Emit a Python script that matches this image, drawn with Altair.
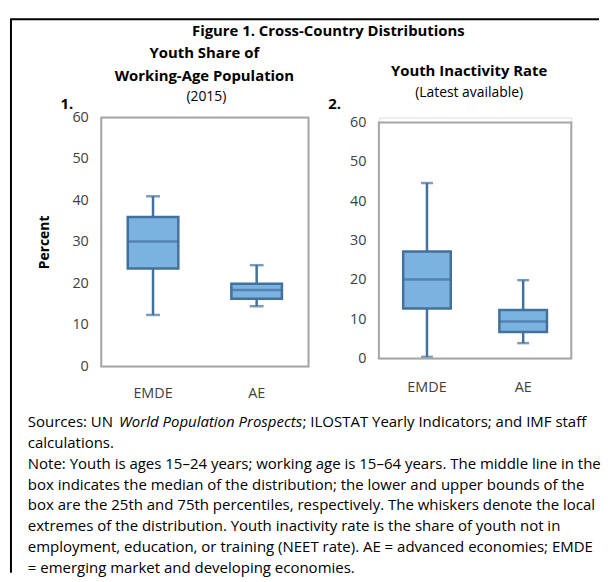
import altair as alt
import pandas as pd

# ---------------- data ----------------
groups = ["EMDE", "AE"]

# Panel 1: Youth share of working-age population (2015), percent
p1_low = [12.4, 14.5]
p1_q1 = [23.6, 16.3]
p1_med = [30.1, 18.4]
p1_q3 = [36.0, 19.9]
p1_high = [41.0, 24.4]

# Panel 2: Youth inactivity rate (latest available), percent
p2_low = [0.4, 3.9]
p2_q1 = [12.7, 6.7]
p2_med = [20.1, 9.4]
p2_q3 = [27.2, 12.3]
p2_high = [44.6, 19.9]

y_ticks = [0, 10, 20, 30, 40, 50, 60]

title_text = "Figure 1. Cross-Country Distributions"
p1_title = ["Youth Share of", "Working-Age Population"]
p1_sub = "(2015)"
p2_title = "Youth Inactivity Rate"
p2_sub = "(Latest available)"
note_a = "Sources: UN "
note_b = "World Population Prospects"
note_c = "; ILOSTAT Yearly Indicators; and IMF staff"
note_lines = [
    "calculations.",
    "Note: Youth is ages 15\u201324 years; working age is 15\u201364 years. The middle line in the",
    "box indicates the median of the distribution; the lower and upper bounds of the",
    "box are the 25th and 75th percentiles, respectively. The whiskers denote the local",
    "extremes of the distribution. Youth inactivity rate is the share of youth not in",
    "employment, education, or training (NEET rate). AE = advanced economies; EMDE",
    "= emerging market and developing economies.",
]

# ---------------- style ----------------
FONT = "Open Sans"
BOX_FILL = "#7CB2DF"
BOX_LINE = "#41719C"
FRAME = "#A6A6A6"
TICK_TXT = "#404040"
NOTE_SIZE = 15.1

one = pd.DataFrame({"k": [0]})


def txt(s, x, y, size=14, weight="normal", align="center", style="normal", color="#000000"):
    return alt.Chart(one).mark_text(
        text=s, align=align, baseline="middle", font=FONT, fontSize=size,
        fontWeight=weight, fontStyle=style, color=color,
    ).encode(x=alt.value(x), y=alt.value(y))


def box_panel(low, q1, med, q3, high, width, height, ymax, box_w, cap_w,
              y_title, label_pad, extra):
    df = pd.DataFrame({"group": groups, "low": low, "q1": q1, "med": med,
                       "q3": q3, "high": high})
    yscale = alt.Scale(domain=[0, ymax], nice=False, zero=True)
    yaxis = alt.Axis(values=y_ticks, domain=False, ticks=False, grid=False,
                     labelPadding=13, labelFontSize=14.5, labelColor=TICK_TXT,
                     labelFont=FONT, title=y_title, titleFont=FONT,
                     titleFontSize=14, titleFontWeight="bold", titleColor="#000000",
                     titleAngle=-90, titleX=-57, titleY=height / 2,
                     titleAlign="center", titleBaseline="middle")
    xenc = alt.X("group:N", sort=groups, scale=alt.Scale(domain=groups),
                 axis=alt.Axis(title=None, labelAngle=0, domain=False, ticks=False,
                               labelPadding=label_pad, labelFontSize=14.5,
                               labelColor=TICK_TXT, labelFont=FONT, labelBaseline="middle"))
    base = alt.Chart(df).encode(x=xenc)
    whisker = base.mark_rule(color=BOX_LINE, strokeWidth=2.5).encode(
        y=alt.Y("low:Q", scale=yscale, axis=yaxis), y2="high:Q")
    caps_lo = base.mark_tick(color=BOX_LINE, size=cap_w, thickness=2.5).encode(
        y=alt.Y("low:Q", scale=yscale, axis=yaxis))
    caps_hi = base.mark_tick(color=BOX_LINE, size=cap_w, thickness=2.5).encode(
        y=alt.Y("high:Q", scale=yscale, axis=yaxis))
    box = base.mark_bar(size=box_w, color=BOX_FILL, stroke=BOX_LINE, strokeWidth=2.5).encode(
        y=alt.Y("q1:Q", scale=yscale, axis=yaxis), y2="q3:Q")
    median = base.mark_tick(color=BOX_LINE, size=box_w, thickness=2.5).encode(
        y=alt.Y("med:Q", scale=yscale, axis=yaxis))
    frame = alt.Chart(one).mark_rect(fillOpacity=0, stroke=FRAME, strokeWidth=2).encode(
        x=alt.value(0), x2=alt.value(width),
        y=alt.Y(datum=60, type="quantitative", scale=yscale, axis=yaxis),
        y2=alt.datum(0))
    return alt.layer(whisker, caps_lo, caps_hi, box, median, frame, *extra).properties(
        width=width, height=height)


# panel 1 plot origin is page (100,115); panel 2 origin page (380,115)
extra1 = [
    # outer black frame (left & top edges)
    alt.Chart(one).mark_rule(color="#000000", strokeWidth=2).encode(
        x=alt.value(-91), y=alt.value(-99), y2=alt.value(459)),
    alt.Chart(one).mark_rule(color="#000000", strokeWidth=2).encode(
        x=alt.value(-92), x2=alt.value(502), y=alt.value(-99)),
    txt(title_text, 229, -87, size=15, weight="bold"),
    txt(p1_title[0], 104, -65, size=15, weight="bold"),
    txt(p1_title[1], 104, -42, size=15, weight="bold"),
    txt(p1_sub, 106, -21, size=14),
    txt("1.", -41, -14, size=15, weight="bold", align="left"),
    txt(note_a, -74, 307, align="left", size=NOTE_SIZE),
    txt(note_b, 18, 307, align="left", style="italic", size=NOTE_SIZE),
    txt(note_c, 203, 307, align="left", size=NOTE_SIZE),
]
for i, line in enumerate(note_lines):
    extra1.append(txt(line, -74, 328 + i * 21.1, align="left", size=NOTE_SIZE))

extra2 = [
    txt(p2_title, 91, -47, size=15, weight="bold"),
    txt(p2_sub, 91, -25, size=14),
    txt("2.", -51, -14, size=15, weight="bold", align="left"),
]

panel1 = box_panel(p1_low, p1_q1, p1_med, p1_q3, p1_high, 209, 251, 60, 51, 14,
                   "Percent", 27, extra1)
panel2 = box_panel(p2_low, p2_q1, p2_med, p2_q3, p2_high, 194, 243, 60 * 243 / 238,
                   48, 12, None, 29, extra2)

chart = alt.hconcat(panel1, panel2, spacing=71, bounds="flush").properties(
    padding={"left": 0, "top": 7, "right": 0, "bottom": 0}
).configure_view(stroke=None).configure(background="#ffffff")

chart.save("out.html", embed_options={"renderer": "svg", "actions": False})
